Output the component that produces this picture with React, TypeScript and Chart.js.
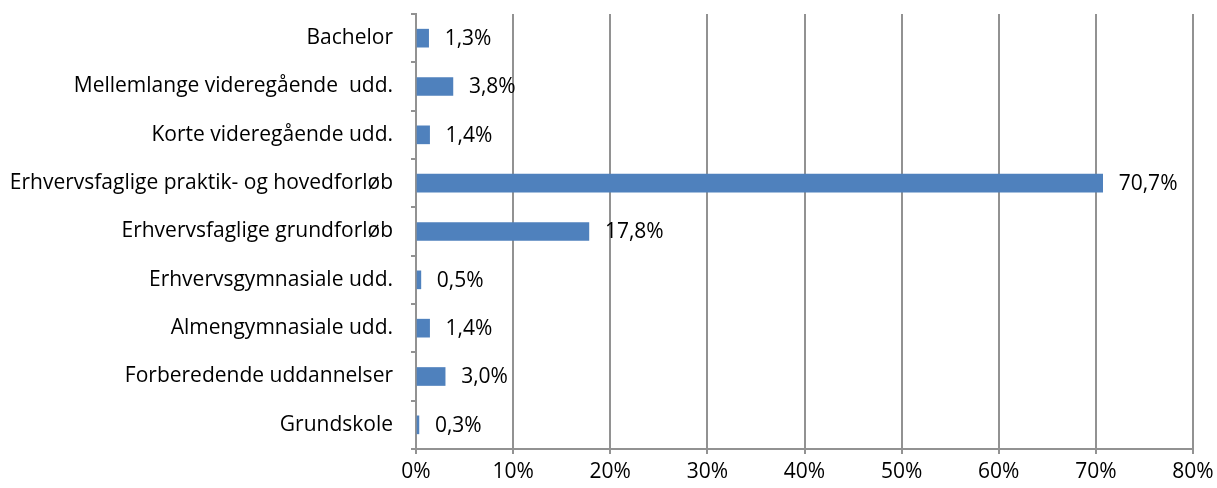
import React, { useEffect, useRef } from "react";
import { Chart, registerables } from "chart.js";

Chart.register(...registerables);

const categories = [
  "Bachelor",
  "Mellemlange videregående  udd.",
  "Korte videregående udd.",
  "Erhvervsfaglige praktik- og hovedforløb",
  "Erhvervsfaglige grundforløb",
  "Erhvervsgymnasiale udd.",
  "Almengymnasiale udd.",
  "Forberedende uddannelser",
  "Grundskole",
];
const values = [1.3, 3.8, 1.4, 70.7, 17.8, 0.5, 1.4, 3.0, 0.3];
const xTicks = [0, 10, 20, 30, 40, 50, 60, 70, 80];

const FONT = "'Open Sans', sans-serif";
const FONT_SIZE = 21;
const LINE = "#929292";

const valueLabels = {
  id: "valueLabels",
  afterDatasetsDraw(chart: any) {
    const ctx = chart.ctx;
    const meta = chart.getDatasetMeta(0);
    ctx.save();
    ctx.font = `${FONT_SIZE}px ${FONT}`;
    ctx.fillStyle = "#000";
    ctx.textAlign = "left";
    ctx.textBaseline = "middle";
    meta.data.forEach((bar: any, i: number) => {
      const v = values[i];
      ctx.fillText(v.toFixed(1).replace(".", ",") + "%", bar.x + 16, bar.y + 1);
    });
    ctx.restore();
  },
};

export default function App() {
  const ref = useRef<HTMLCanvasElement>(null);
  useEffect(() => {
    document.body.style.margin = "0";
    const chart = new Chart(ref.current!, {
      type: "bar",
      data: {
        labels: categories,
        datasets: [
          {
            data: values,
            backgroundColor: "#4F81BD",
            borderWidth: 0,
            barThickness: 18,
          },
        ],
      },
      plugins: [valueLabels],
      options: {
        indexAxis: "y",
        animation: false,
        responsive: false,
        maintainAspectRatio: false,
        layout: { padding: { top: 14, right: 24, bottom: 0, left: 0 } },
        plugins: { legend: { display: false }, tooltip: { enabled: false } },
        scales: {
          x: {
            min: 0,
            max: 80,
            afterBuildTicks: (s: any) => {
              s.ticks = xTicks.map((v) => ({ value: v }));
            },
            afterFit: (s: any) => {
              s.height = 39;
              s.paddingLeft = 0;
              s.paddingRight = 0;
            },
            ticks: {
              callback: (v: any) => v + "%",
              color: "#000",
              font: { family: FONT, size: FONT_SIZE },
              padding: 5,
              maxRotation: 0,
            },
            grid: { color: LINE, lineWidth: 2, tickLength: 5 },
            border: { color: LINE, width: 2 },
          },
          y: {
            afterFit: (s: any) => {
              s.width = 416;
              s.paddingTop = 0;
              s.paddingBottom = 0;
            },
            ticks: {
              color: "#000",
              font: { family: FONT, size: FONT_SIZE },
              padding: 18,
            },
            grid: {
              offset: true,
              drawOnChartArea: false,
              color: LINE,
              lineWidth: 2,
              tickLength: 5,
            },
            border: { color: LINE, width: 2 },
          },
        },
      },
    });
    return () => chart.destroy();
  }, []);
  return (
    <div style={{ width: 1217, height: 488 }}>
      <canvas ref={ref} width={1217} height={488} style={{ display: "block" }} />
    </div>
  );
}
